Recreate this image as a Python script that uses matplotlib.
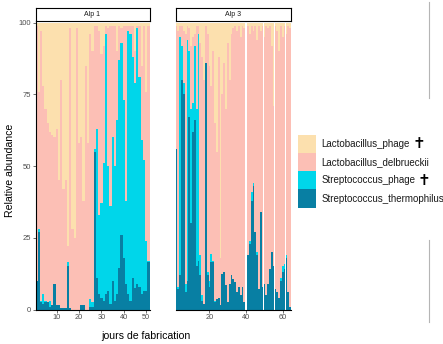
import matplotlib
matplotlib.use("Agg")
import matplotlib.pyplot as plt
from matplotlib.patches import Patch
from matplotlib.lines import Line2D
import numpy as np

plt.rcParams['font.family'] = ['Liberation Sans', 'DejaVu Sans']

species = ["Lactobacillus_phage", "Lactobacillus_delbrueckii",
           "Streptococcus_phage", "Streptococcus_thermophilus"]
colors = {"Lactobacillus_phage": "#FCE0AE",
          "Lactobacillus_delbrueckii": "#FCBFB5",
          "Streptococcus_phage": "#00D6EA",
          "Streptococcus_thermophilus": "#087FA3"}
dead = ["Lactobacillus_phage", "Streptococcus_phage"]  # marked with a cross

# Alp 1 : days 1..51
alp1_days = list(range(1, 52))
alp1_st = [10, 27, 2.5, 2, 2.5, 2.5, 1, 1.5, 9, 1.5, 1.5, 0.5, 0.5, 0.5, 15, 0.5, 0, 0, 0, 0,
           1.5, 1.5, 0, 0, 1, 1, 55, 11, 5.5, 4, 3, 5.5, 6.5, 2, 10, 3, 5.5, 14.5, 26, 18,
           9, 5.5, 3, 11, 7.5, 9, 8, 5.5, 6.5, 6.5, 16.5]
alp1_sp = [0, 1, 0.5, 3.5, 0.5, 0, 2, 0, 0, 0, 0, 0, 0, 0, 1.5, 0, 0, 0, 0, 0,
           0, 0, 0, 0, 2.5, 1.5, 1, 52, 27.5, 33, 48, 90.5, 43.5, 34, 50, 47, 60.5, 72.5, 67, 55,
           29, 91.5, 93, 77, 71.5, 89, 73, 53.5, 45.5, 17.5, 0.5]
alp1_ld = [89, 48, 94, 72.5, 67, 62.5, 59, 59.5, 51, 61.5, 43.5, 79.5, 41.5, 44.5, 5.5, 97.5, 28, 25, 98, 58,
           58.5, 36.5, 85, 58, 92.5, 87.5, 43, 36, 64, 52, 41, 3, 48, 63, 39, 49, 24, 12, 5, 26,
           61, 2, 3, 11, 11, 1, 18, 26, 47, 52, 82]
alp1_lp = [1, 24, 3, 22, 30, 35, 38, 39, 40, 37, 55, 20, 58, 55, 78, 2, 72, 75, 2, 42,
           40, 62, 15, 42, 4, 10, 1, 1, 3, 11, 8, 1, 2, 1, 1, 1, 10, 1, 2, 1,
           1, 1, 1, 1, 10, 1, 1, 15, 1, 24, 1]

# Alp 3 : days 2..64 (no sample on day 40)
alp3_days = list(range(2, 40)) + list(range(41, 65))
alp3_st = [56, 7, 12, 80, 75, 6, 10, 67, 30, 62, 66, 15, 17, 12, 3, 2, 86, 12, 8, 16.5,
           16.5, 2.5, 3.5, 4, 1.5, 12.5, 13, 8.5, 2.5, 9, 12, 10.5, 9.5, 6, 8, 5, 8, 2.5,
           19, 23, 38, 43, 27, 19, 7, 34, 8, 9, 5, 9, 14, 20, 15, 7, 6, 4, 10, 13, 14, 18, 6, 1]
alp3_sp = [0, 1, 83, 12, 4, 3, 84, 23, 40, 10, 26, 55, 79, 7, 2, 0, 0, 1, 2, 3,
           0.5, 0.5, 0, 0, 0, 0, 0, 0, 0, 0, 0, 0, 0, 0, 0, 0, 0, 0,
           0, 1, 3, 1, 0, 1, 0, 0, 0, 0, 0, 0, 0, 0, 0, 0, 0, 0, 1, 2, 2, 1, 0, 0]
alp3_ld = [43, 89, 4, 7, 18, 87, 5, 8, 22, 23, 4, 29, 3, 74, 83, 78, 13, 83, 75, 58.5,
           73, 62, 51.5, 84, 16.5, 62.5, 73, 61.5, 90.5, 71, 84, 87.5, 89.5, 91, 91, 90, 91, 95.5,
           80, 72, 58, 53, 72, 74, 92, 63, 91, 86, 94, 89, 85, 72, 56, 92, 91, 86, 88, 80, 83, 77, 93, 97]
alp3_lp = [1, 3, 1, 1, 3, 4, 1, 2, 8, 5, 4, 1, 1, 7, 12, 20, 1, 4, 15, 22,
           10, 35, 45, 12, 82, 25, 14, 30, 7, 20, 4, 2, 1, 3, 1, 5, 1, 2,
           1, 4, 1, 3, 1, 6, 1, 3, 1, 5, 1, 2, 1, 8, 29, 1, 3, 10, 1, 5, 1, 4, 1, 2]

W, H = 443, 344
fig = plt.figure(figsize=(W / 100, H / 100), dpi=100)

def px(x0, y0, x1, y1):
    return [x0 / W, 1 - y1 / H, (x1 - x0) / W, (y1 - y0) / H]

panels = [
    ("Alp 1", alp1_days, [alp1_st, alp1_sp, alp1_ld, alp1_lp], (0.5, 51.5), [10, 20, 30, 40, 50], 35.5, 149.5),
    ("Alp 3", alp3_days, [alp3_st, alp3_sp, alp3_ld, alp3_lp], (1.5, 64.5), [20, 40, 60], 175.5, 291),
]

tick_col = "#4D4D4D"
for i, (name, days, vals, xl, xt, x0, x1) in enumerate(panels):
    ax = fig.add_axes(px(x0, 21, x1, 309.5))
    bottom = np.zeros(len(days))
    for sp_name, v in zip(species[::-1], vals):
        v = np.array(v, dtype=float)
        ax.bar(days, v, width=1.0, bottom=bottom, color=colors[sp_name],
               edgecolor="none", linewidth=0)
        bottom += v
    ax.set_xlim(*xl)
    ax.set_ylim(0, 100.6)
    ax.set_xticks(xt)
    for s in ["top", "right"]:
        ax.spines[s].set_visible(False)
    ax.spines["bottom"].set_linewidth(0.8)
    ax.spines["left"].set_linewidth(0.8)
    ax.tick_params(axis="x", length=2, width=0.5, color="#333333", labelsize=5.3,
                   labelcolor=tick_col, pad=1.5)
    if i == 0:
        ax.set_yticks([0, 25, 50, 75, 100])
        ax.tick_params(axis="y", length=2, width=0.5, color="#333333", labelsize=5.5,
                       labelcolor=tick_col, pad=1.5)
    else:
        ax.spines["left"].set_visible(False)
        ax.set_yticks([])
    # facet strip
    sx = fig.add_axes(px(x0, 7.5, x1, 20.5))
    sx.set_xticks([])
    sx.set_yticks([])
    for s in sx.spines.values():
        s.set_linewidth(0.8)
    sx.text(0.5, 0.5, name, ha="center", va="center", fontsize=5, color="#1A1A1A",
            transform=sx.transAxes)

fig.text(10 / W, 1 - 170 / H, "Relative abundance", rotation=90, ha="center", va="center",
         fontsize=7.6, color="black")
fig.text(146 / W, 1 - 336 / H, "jours de fabrication", ha="center", va="center",
         fontsize=7.6, color="black")

handles = [Patch(facecolor=colors[s], edgecolor="none") for s in species]
leg = fig.legend(handles, species, loc="upper left", bbox_to_anchor=(297.5 / W, 1 - 134.5 / H),
                 frameon=False, fontsize=7, handlelength=1.95, handleheight=2.52,
                 handletextpad=0.5, labelspacing=0, borderpad=0, borderaxespad=0,
                 labelcolor="#1A1A1A")

# crosses after the phage labels
fig.canvas.draw()
inv = fig.transFigure.inverted()
for t in leg.get_texts():
    if t.get_text() in dead:
        bb = t.get_window_extent()
        xf, yf = inv.transform((bb.x1 + 9, (bb.y0 + bb.y1) / 2))
        fig.text(xf, yf, "\u271D", ha="center", va="center", fontsize=11,
                 color="black", family="DejaVu Sans", fontweight="bold")

# thin grey border remnants at the right
for ya, yb in [(2, 98), (240, 322)]:
    fig.add_artist(Line2D([428.5 / W, 428.5 / W], [1 - ya / H, 1 - yb / H],
                          transform=fig.transFigure, color="#B5B5B5", linewidth=0.8))

fig.savefig("out.png", dpi=100)
